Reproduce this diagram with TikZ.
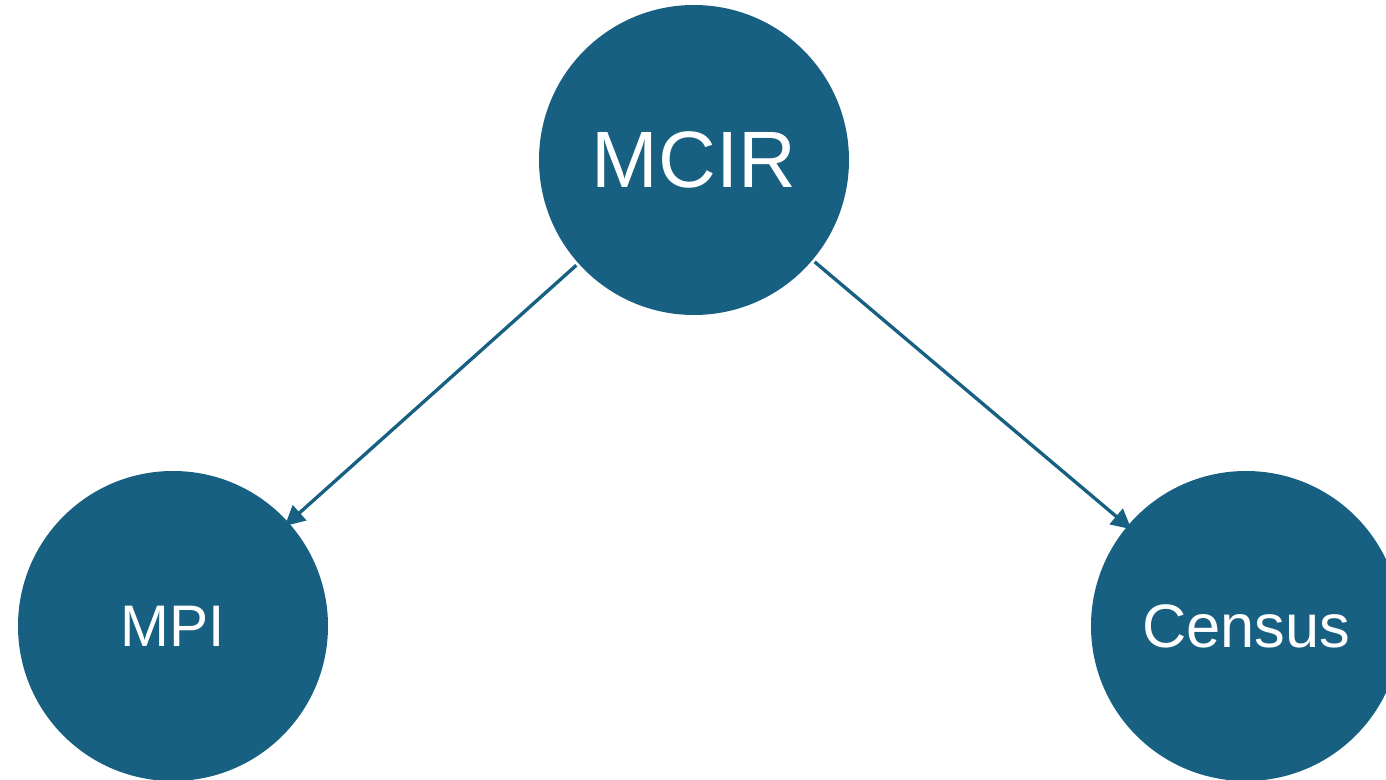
\documentclass[tikz,border=0pt]{standalone}
\usepackage{fontspec}
\setmainfont{Liberation Sans}
\usetikzlibrary{arrows.meta}
\definecolor{nodeblue}{RGB}{23,96,130}
\begin{document}
\begin{tikzpicture}[x=0.75pt,y=-0.75pt,
  bubble/.style={circle,fill=nodeblue,text=white,minimum size=232.5pt,inner sep=0pt},
  link/.style={draw=nodeblue,line width=2.5pt,-{Triangle[length=15pt,width=15pt]},shorten <=2pt,shorten >=-4pt}]
\useasboundingbox (0,0) rectangle (1386,780);
\clip (0,0) rectangle (1386,780);
\fill[white] (0,0) rectangle (1386,780);
\node[bubble,font=\fontsize{60}{66}\selectfont] (mcir) at (694,160) {MCIR};
\node[bubble,font=\fontsize{44}{50}\selectfont] (mpi) at (173,626) {MPI};
\node[bubble,font=\fontsize{46}{52}\selectfont] (census) at (1246,626) {Census};
\draw[link] (mcir) -- (mpi);
\draw[link] (mcir) -- (census);
\end{tikzpicture}
\end{document}
